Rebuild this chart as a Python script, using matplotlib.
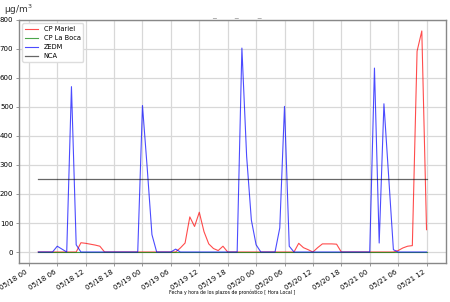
# pronostico de concentraciones -- recreacion del grafico
import matplotlib
matplotlib.use("Agg")
import matplotlib.pyplot as plt
import matplotlib.dates as mdates
import numpy as np
import pandas as pd

# horas de pronostico (05/18 02 -> 05/21 12, cada hora)
horas = pd.date_range("2023-05-18 02:00", "2023-05-21 12:00", freq="h")

# CP Mariel (h02..h84)
cp_mariel = [0, 0, 0, 0, 0, 0, 0, 0, 0,          # h02-h10
             32, 30, 27, 24, 20, 0,              # h11-h16
             0, 0, 0, 0, 0, 0, 0, 0, 0, 0, 0, 0, 0, 0, 0,   # h17-h31
             14, 31, 121, 88, 137, 70, 28, 12, 5, 20, 0,  # h32-h42
             0, 0, 0, 0, 0, 0, 0, 0, 0, 0, 0, 0, 0,         # h43-h55
             0, 30, 15, 8, 0, 15, 28, 28, 28, 27, 0,        # h56-h66
             0, 0, 0, 0, 0, 0, 0, 0, 0, 0, 0,               # h67-h77
             5, 14, 20, 22, 692, 762, 77]                   # h78-h84

# CP La Boca
cp_la_boca = [0] * len(horas)

# ZEDM
zedm = [0, 0, 0, 0, 20, 10, 0, 570, 25, 0,                   # h02-h11
        0, 0, 0, 0, 0, 0, 0, 0, 0, 0, 0, 0,                  # h12-h23
        505, 290, 60, 0, 0, 0, 0, 10, 0,                     # h24-h32
        0, 0, 0, 0, 0, 0, 0, 0, 0, 0, 0, 0,                  # h33-h44
        703, 330, 110, 25, 0, 0, 0, 0, 83, 502, 20, 0,       # h45-h56
        0, 0, 0, 0, 0, 0, 0, 0, 0, 0, 0, 0, 0, 0, 0, 0,      # h57-h72
        634, 31, 511, 260, 8, 0, 0, 0, 0, 0, 0, 0]           # h73-h84

# norma NCA
nca = [250] * len(horas)

fig = plt.figure(figsize=(4.5, 3.02), dpi=100)
ax = fig.add_axes([0.042, 0.129, 0.949, 0.805])

ax.plot(horas, cp_mariel, color="r", alpha=0.7, lw=0.8, label="CP Mariel")
ax.plot(horas, cp_la_boca, color="g", alpha=0.7, lw=0.8, label="CP La Boca")
ax.plot(horas, zedm, color="b", alpha=0.7, lw=0.8, label="ZEDM")
ax.plot(horas, nca, color="k", alpha=0.6, lw=0.9, label="NCA")

ax.set_ylim(-38, 800)
ax.set_yticks(np.arange(0, 801, 100))
ax.xaxis.set_major_locator(mdates.HourLocator(byhour=[0, 6, 12, 18]))
ax.xaxis.set_major_formatter(mdates.DateFormatter("%m/%d %H"))
plt.setp(ax.get_xticklabels(), rotation=33, ha="right")

ax.grid(True, color="#d8d8d8", lw=0.9)
ax.set_axisbelow(True)
for s in ax.spines.values():
    s.set_color("#888888")
    s.set_linewidth(1.0)
ax.tick_params(labelsize=5, length=2.5, width=0.6, color="#888888", pad=1.5)

ax.legend(loc="upper left", fontsize=4.8, framealpha=1.0, edgecolor="#dddddd",
          labelspacing=0.45)

fig.text(0.008, 0.969, "µg/m$^3$", fontsize=6.5, color="#333333", va="center")
fig.text(0.526, 0.945, "_        _        _", fontsize=5.5, color="#999999",
         ha="center", va="baseline")
fig.text(0.516, 0.025, "Fecha y hora de los plazos de pronóstico [ Hora Local ]",
         fontsize=3.3, ha="center")

fig.savefig("out.png", dpi=100)
